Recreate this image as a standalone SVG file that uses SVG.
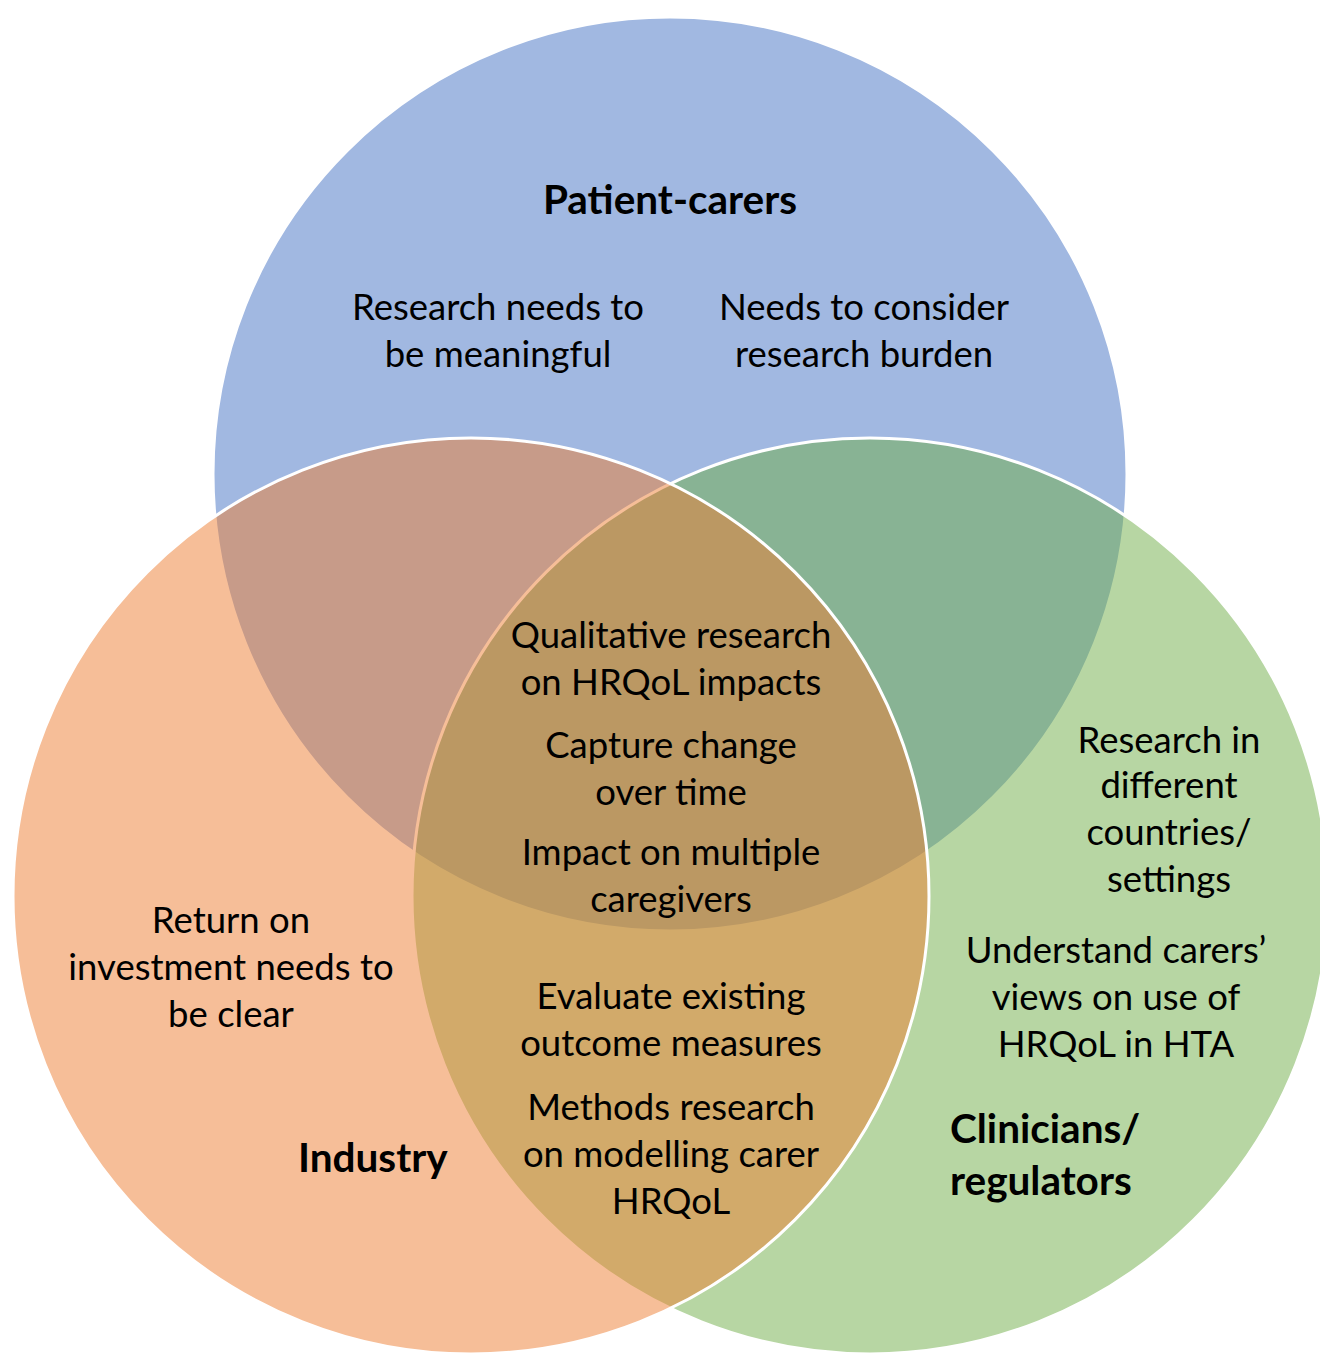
<svg xmlns="http://www.w3.org/2000/svg" width="1320" height="1353" viewBox="0 0 1320 1353">
<style>
.c{stroke:#FFFFFF;stroke-width:3;fill-opacity:0.5}
.t{font-family:Lato,"Liberation Sans",sans-serif;font-size:36.5px;fill:#000;text-anchor:middle}
.b{font-family:Lato,"Liberation Sans",sans-serif;font-size:40.5px;font-weight:bold;fill:#000}
</style>
<rect width="1320" height="1353" fill="#FFFFFF"/>
<g id="circles">
<circle id="patient-carers" class="c" cx="670" cy="474" r="457" fill="#4472C4"/>
<circle id="clinicians" class="c" cx="870" cy="896" r="458" fill="#70AD47"/>
<circle id="industry" class="c" cx="471" cy="896" r="458" fill="#ED7D31"/>
</g>
<g id="labels">
<g id="patient-label"><text class="b" x="670" y="214" text-anchor="middle">Patient-carers</text></g>
<g id="patient-items">
<text class="t" x="498" y="320">Research needs to</text>
<text class="t" x="498" y="367">be meaningful</text>
<text class="t" x="864" y="320">Needs to consider</text>
<text class="t" x="864" y="367">research burden</text>
</g>
<g id="center-items">
<text class="t" x="671" y="648">Qualitative research</text>
<text class="t" x="671" y="695">on HRQoL impacts</text>
<text class="t" x="671" y="758">Capture change</text>
<text class="t" x="671" y="805">over time</text>
<text class="t" x="671" y="865">Impact on multiple</text>
<text class="t" x="671" y="912">caregivers</text>
</g>
<g id="industry-clinician-items">
<text class="t" x="671" y="1009">Evaluate existing</text>
<text class="t" x="671" y="1056">outcome measures</text>
<text class="t" x="671" y="1120">Methods research</text>
<text class="t" x="671" y="1167">on modelling carer</text>
<text class="t" x="671" y="1214">HRQoL</text>
</g>
<g id="industry-items">
<text class="t" x="231" y="933">Return on</text>
<text class="t" x="231" y="980">investment needs to</text>
<text class="t" x="231" y="1027">be clear</text>
<text class="b" x="298" y="1172">Industry</text>
</g>
<g id="clinician-items">
<text class="t" x="1169" y="753">Research in</text>
<text class="t" x="1169" y="798">different</text>
<text class="t" x="1169" y="845">countries/</text>
<text class="t" x="1169" y="892">settings</text>
<text class="t" x="1116" y="963">Understand carers’</text>
<text class="t" x="1116" y="1010">views on use of</text>
<text class="t" x="1116" y="1057">HRQoL in HTA</text>
<text class="b" x="950" y="1143">Clinicians/</text>
<text class="b" x="950" y="1195">regulators</text>
</g>
</g>
</svg>
